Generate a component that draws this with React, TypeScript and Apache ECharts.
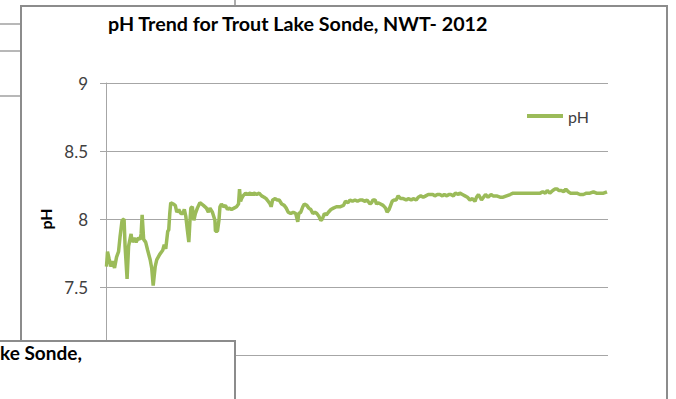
import React, { useEffect, useRef } from "react";
import * as echarts from "echarts";

const TITLE = "pH Trend for Trout Lake Sonde, NWT- 2012";
const SERIES_NAME = "pH";
const Y_TICKS = [7, 7.5, 8, 8.5, 9];

// elapsed time (share of the record, 0-100)
const time = [
  0.1, 0.3, 0.6, 1.0, 1.3, 1.7, 2.1, 2.5, 2.8, 3.2, 3.6, 3.8, 4.2, 4.5, 5.0, 5.2, 5.6, 6.0, 6.4, 6.8,
  7.0, 7.2, 7.5, 7.9, 8.3, 8.8, 9.1, 9.4, 9.8, 10.1, 10.7, 11.3, 11.6, 11.9, 12.3, 12.5, 12.7, 12.9, 13.4, 13.8,
  14.1, 14.5, 14.9, 15.3, 15.6, 15.9, 16.2, 16.5, 16.7, 16.9, 17.2, 17.5, 17.8, 18.2, 18.7, 19.4, 20.0, 20.4, 20.7, 21.2,
  21.7, 21.8, 22.2, 22.5, 22.7, 23.0, 23.4, 23.8, 24.2, 24.5, 25.0, 25.5, 26.0, 26.4, 26.6, 26.8, 27.0, 27.3, 27.8, 28.2,
  28.7, 29.1, 29.5, 30.0, 30.5, 31.0, 31.5, 31.9, 32.3, 32.7, 32.9, 33.2, 33.7, 34.1, 34.5, 35.0, 35.5, 35.9, 36.3, 36.8,
  37.3, 37.8, 38.2, 38.4, 38.8, 39.2, 39.5, 40.0, 40.4, 40.8, 41.2, 41.6, 42.0, 42.4, 42.8, 43.1, 43.5, 43.9, 44.3, 44.8,
  45.3, 45.9, 46.6, 47.3, 47.7, 48.2, 48.6, 49.1, 49.6, 50.1, 50.6, 51.0, 51.6, 52.0, 52.6, 52.9, 53.2, 53.6, 53.9, 54.2,
  54.7, 55.2, 55.7, 56.0, 56.4, 56.7, 57.0, 57.4, 57.8, 58.2, 58.7, 59.2, 59.8, 60.2, 60.8, 61.2, 61.8, 62.2, 62.7, 63.2,
  63.7, 64.2, 64.7, 65.1, 65.5, 66.0, 66.5, 67.0, 67.4, 67.9, 68.3, 68.7, 69.2, 69.6, 70.2, 70.5, 71.0, 71.5, 72.0, 72.5,
  73.0, 73.5, 73.8, 74.2, 74.5, 74.8, 75.2, 75.6, 76.1, 76.7, 77.1, 77.8, 78.5, 79.1, 79.8, 80.5, 81.1, 81.8, 82.5, 83.1,
  83.8, 84.5, 85.1, 85.8, 86.5, 87.0, 87.5, 87.9, 88.4, 89.0, 89.4, 89.9, 90.2, 90.7, 91.2, 91.6, 92.1, 92.5, 93.1, 93.8,
  94.4, 95.1, 95.7, 96.4, 97.1, 97.7, 98.4, 99.1, 99.8,
];

const ph = [
  7.65, 7.76, 7.71, 7.65, 7.69, 7.64, 7.72, 7.76, 7.87, 7.99, 8.0, 7.8, 7.56, 7.8, 7.89, 7.83, 7.86, 7.83, 7.86, 7.85,
  7.89, 8.03, 7.85, 7.83, 7.77, 7.7, 7.64, 7.51, 7.65, 7.7, 7.74, 7.77, 7.81, 7.78, 7.91, 7.92, 8.04, 8.12, 8.11, 8.1,
  8.05, 8.07, 8.04, 8.04, 8.07, 8.02, 7.92, 7.83, 7.97, 8.08, 8.09, 7.99, 8.04, 8.08, 8.12, 8.1, 8.08, 8.05, 8.08, 8.05,
  7.99, 7.91, 7.91, 7.99, 8.09, 8.11, 8.09, 8.1, 8.07, 8.08, 8.07, 8.08, 8.09, 8.11, 8.22, 8.13, 8.15, 8.17, 8.19, 8.18,
  8.19, 8.18, 8.19, 8.18, 8.19, 8.17, 8.16, 8.15, 8.13, 8.11, 8.09, 8.14, 8.15, 8.14, 8.14, 8.11, 8.1, 8.08, 8.05, 8.04,
  8.05, 8.04, 7.98, 8.04, 8.05, 8.09, 8.11, 8.1, 8.08, 8.07, 8.04, 8.05, 8.04, 8.02, 7.99, 8.0, 8.04, 8.03, 8.05, 8.07,
  8.08, 8.09, 8.09, 8.1, 8.13, 8.12, 8.14, 8.13, 8.14, 8.13, 8.14, 8.14, 8.13, 8.14, 8.11, 8.12, 8.14, 8.14, 8.11, 8.12,
  8.11, 8.1, 8.08, 8.05, 8.07, 8.1, 8.13, 8.14, 8.14, 8.17, 8.15, 8.15, 8.14, 8.15, 8.14, 8.15, 8.14, 8.16, 8.17, 8.16,
  8.17, 8.18, 8.18, 8.18, 8.17, 8.18, 8.18, 8.17, 8.18, 8.17, 8.18, 8.18, 8.17, 8.19, 8.18, 8.19, 8.18, 8.17, 8.16, 8.14,
  8.15, 8.13, 8.16, 8.18, 8.16, 8.14, 8.16, 8.18, 8.16, 8.18, 8.17, 8.17, 8.16, 8.16, 8.17, 8.18, 8.19, 8.19, 8.19, 8.19,
  8.19, 8.19, 8.19, 8.19, 8.19, 8.2, 8.19, 8.21, 8.19, 8.21, 8.22, 8.22, 8.21, 8.21, 8.2, 8.22, 8.2, 8.19, 8.19, 8.19,
  8.18, 8.18, 8.19, 8.19, 8.2, 8.19, 8.19, 8.19, 8.2,
];

const FONT = "Lato, 'Noto Sans', sans-serif";
const GREEN = "#9BBB59";
const FRAME = "#8c8c8c";
const GRID = "#a6a6a6";

export default function App() {
  const ref = useRef<HTMLDivElement>(null);

  useEffect(() => {
    if (!ref.current) return;
    const chart = echarts.init(ref.current, null, { renderer: "svg" });
    const data = time.map((t, i) => [t, ph[i]]);
    chart.setOption({
      animation: false,
      backgroundColor: "#ffffff",
      textStyle: { fontFamily: FONT },
      title: {
        text: TITLE,
        left: 103,
        top: 8,
        textStyle: { fontFamily: FONT, fontSize: 19.7, fontWeight: "bold", color: "#000" },
      },
      legend: {
        data: [SERIES_NAME],
        left: 522,
        top: 103,
        icon: "rect",
        itemWidth: 36,
        itemHeight: 4,
        itemGap: 4,
        itemStyle: { color: GREEN },
        textStyle: { fontFamily: FONT, fontSize: 16, color: "#404040" },
      },
      grid: { left: 106, right: 68, top: 83, bottom: 44, containLabel: false },
      xAxis: {
        type: "value",
        min: 0,
        max: 100,
        axisLine: { show: false },
        axisTick: { show: false },
        axisLabel: { show: false },
        splitLine: { show: false },
      },
      yAxis: {
        type: "value",
        min: Y_TICKS[0],
        max: Y_TICKS[Y_TICKS.length - 1],
        interval: 0.5,
        name: SERIES_NAME,
        nameLocation: "middle",
        nameGap: 52,
        nameTextStyle: { fontFamily: FONT, fontSize: 16, fontWeight: "bold", color: "#000" },
        axisLine: { show: true, lineStyle: { color: GRID, width: 1 } },
        axisTick: { show: true, length: 6, lineStyle: { color: GRID } },
        axisLabel: {
          fontFamily: FONT,
          fontSize: 17,
          color: "#404040",
          margin: 18,
          // the lowest label sits under the overlapping box in the reference
          formatter: (v: number) => (v === Y_TICKS[0] ? "" : String(v)),
        },
        splitLine: { show: true, lineStyle: { color: GRID, width: 1 } },
      },
      series: [
        {
          name: SERIES_NAME,
          type: "line",
          data,
          symbol: "none",
          lineStyle: { color: GREEN, width: 3.5 },
          itemStyle: { color: GREEN },
          z: 3,
        },
      ],
      graphic: [
        // lines of charts lying behind
        { type: "line", z: -10, shape: { x1: 0, y1: 24, x2: 21, y2: 24 }, style: { stroke: "#a0a0a0", lineWidth: 1.5 } },
        { type: "line", z: -10, shape: { x1: 0, y1: 51, x2: 21, y2: 51 }, style: { stroke: "#a0a0a0", lineWidth: 1.5 } },
        { type: "line", z: -10, shape: { x1: 0, y1: 96, x2: 21, y2: 96 }, style: { stroke: "#a0a0a0", lineWidth: 1.5 } },
        { type: "line", z: -10, shape: { x1: 235, y1: 0, x2: 235, y2: 6 }, style: { stroke: "#909090", lineWidth: 1.5 } },
        // main chart frame
        {
          type: "rect",
          z: -5,
          shape: { x: 21, y: 6, width: 646, height: 420 },
          style: { fill: "none", stroke: FRAME, lineWidth: 2 },
        },
        // overlapping box at lower left
        {
          type: "rect",
          z: 100,
          shape: { x: -5, y: 341, width: 240, height: 80 },
          style: { fill: "#ffffff", stroke: FRAME, lineWidth: 2 },
        },
        {
          type: "text",
          z: 101,
          x: 0,
          y: 362,
          style: {
            text: "ke Sonde,",
            fontFamily: FONT,
            fontSize: 19,
            fontWeight: "bold",
            fill: "#000",
            textVerticalAlign: "bottom",
          },
        },
      ],
    });
    return () => chart.dispose();
  }, []);

  return (
    <div
      ref={ref}
      style={{ position: "fixed", left: 0, top: 0, width: 676, height: 399, background: "#fff" }}
    />
  );
}
